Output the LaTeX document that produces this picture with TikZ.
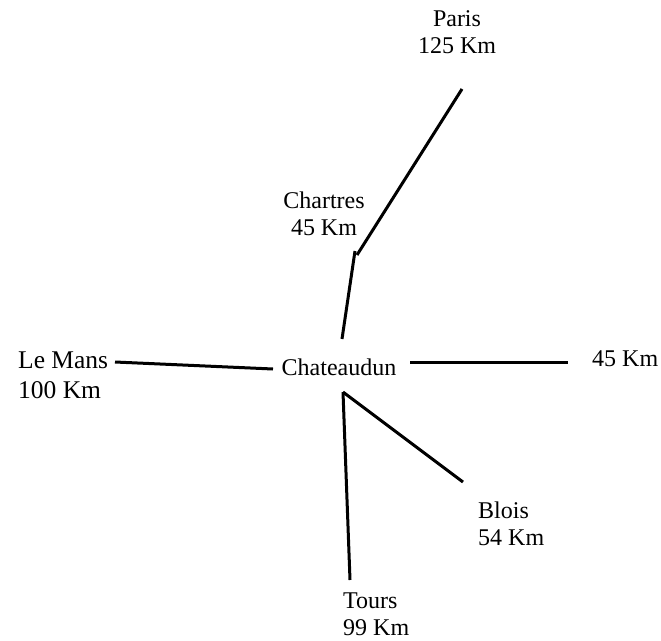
\documentclass[tikz,border=0pt]{standalone}
\usepackage{fontspec}
\setmainfont{Liberation Serif}
\begin{document}
\begin{tikzpicture}[x=1pt,y=-1pt,
  lbl/.style={inner sep=0pt,font=\fontsize{24}{27}\selectfont},
  road/.style={line width=3pt}]
\useasboundingbox (0,0) rectangle (661,640);
% labels (base anchor = baseline of the last line)
\node[lbl,align=center,anchor=base] (paris) at (457,53) {Paris\\125 Km};
\node[lbl,align=center,anchor=base] (chartres) at (324,235) {Chartres\\45 Km};
\node[lbl,anchor=base] (chateaudun) at (339,375) {Chateaudun};
\node[lbl,font=\fontsize{25.5}{30}\selectfont,align=left,anchor=base west] (lemans) at (18,398) {Le Mans\\100 Km};
\node[lbl,anchor=base west] (orleans) at (592,366) {45 Km};
\node[lbl,align=left,anchor=base west] (blois) at (478,545) {Blois\\54 Km};
\node[lbl,align=left,anchor=base west] (tours) at (343,635) {Tours\\99 Km};
% line ends
\coordinate (p1) at (462,89);
\coordinate (p2) at (357,255);
\coordinate (c1) at (355,251);
\coordinate (c2) at (342,339);
\coordinate (m1) at (115,362);
\coordinate (m2) at (273,369);
\coordinate (o1) at (410,362);
\coordinate (o2) at (568,362);
\coordinate (s) at (343,392);
\coordinate (b2) at (463,482);
\coordinate (t2) at (350,580);
% roads
\draw[road] (p1) -- (p2);
\draw[road] (c1) -- (c2);
\draw[road] (m1) -- (m2);
\draw[road] (o1) -- (o2);
\draw[road] (s) -- (b2);
\draw[road] (s) -- (t2);
\end{tikzpicture}
\end{document}
